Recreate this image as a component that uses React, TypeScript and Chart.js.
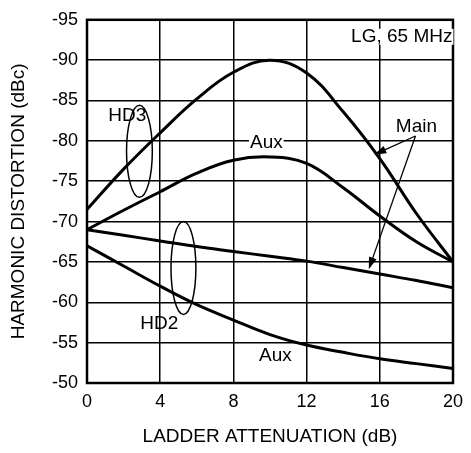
import React, { useEffect, useRef } from "react";
import { Chart, registerables } from "chart.js";

Chart.register(...registerables);

const attenuation = [0, 2, 4, 6, 8, 10, 12, 14, 16, 18, 20];
const hd3Main = [-71.5, -76.5, -81, -85.2, -88.5, -90, -88.4, -83.6, -77.8, -71, -65];
const hd3Aux = [-69, -71.4, -73.7, -76, -77.6, -78, -77.2, -74.2, -70.7, -67.5, -65];
const hd2Main = [-69, -68.3, -67.6, -66.9, -66.3, -65.7, -65.1, -64.3, -63.5, -62.7, -61.8];
const hd2Aux = [-67, -64.5, -62, -59.7, -57.8, -56, -54.7, -53.8, -53, -52.4, -51.8];
const xTicks = [0, 4, 8, 12, 16, 20];
const yTicks = [-95, -90, -85, -80, -75, -70, -65, -60, -55, -50];

const FONT = "'Liberation Sans', Arial, sans-serif";

const annotationPlugin = {
  id: "annotations",
  afterDraw(chart: any) {
    const { ctx, chartArea, scales } = chart;
    const xs = scales.x;
    const ys = scales.y;
    const px = (v: number) => xs.getPixelForValue(v);
    const py = (v: number) => ys.getPixelForValue(v);
    ctx.save();

    // frame
    ctx.strokeStyle = "#000";
    ctx.lineWidth = 2.5;
    ctx.strokeRect(chartArea.left, chartArea.top, chartArea.right - chartArea.left, chartArea.bottom - chartArea.top);

    const text = (s: string, x: number, y: number, bg: boolean) => {
      ctx.font = `19px ${FONT}`;
      ctx.textAlign = "center";
      ctx.textBaseline = "middle";
      const w = ctx.measureText(s).width;
      const X = px(x);
      const Y = py(y);
      if (bg) {
        ctx.fillStyle = "#fff";
        ctx.fillRect(X - w / 2 - 1, Y - 8, w + 2, 16);
      }
      ctx.fillStyle = "#000";
      ctx.fillText(s, X, Y);
    };

    text("LG, 65 MHz", 17.2, -92.9, true);
    text("HD3", 2.2, -83.1, false);
    text("Aux", 9.8, -79.8, true);
    text("Main", 18, -81.7, false);
    text("HD2", 3.95, -57.3, false);
    text("Aux", 10.3, -53.4, false);

    // ellipses
    const ellipse = (x0: number, x1: number, y0: number, y1: number) => {
      const a = px(x0), b = px(x1), c = py(y0), d = py(y1);
      ctx.beginPath();
      ctx.ellipse((a + b) / 2, (c + d) / 2, Math.abs(b - a) / 2, Math.abs(d - c) / 2, 0, 0, Math.PI * 2);
      ctx.lineWidth = 1.5;
      ctx.strokeStyle = "#000";
      ctx.stroke();
    };
    ellipse(2.16, 3.57, -84.4, -73.0);
    ellipse(4.59, 5.95, -70.0, -58.5);

    // arrows
    const arrow = (x0: number, y0: number, x1: number, y1: number) => {
      const X0 = px(x0), Y0 = py(y0), X1 = px(x1), Y1 = py(y1);
      const ang = Math.atan2(Y1 - Y0, X1 - X0);
      const len = 12;
      const hw = 4;
      ctx.strokeStyle = "#000";
      ctx.lineWidth = 1.3;
      ctx.beginPath();
      ctx.moveTo(X0, Y0);
      ctx.lineTo(X1 - Math.cos(ang) * len * 0.8, Y1 - Math.sin(ang) * len * 0.8);
      ctx.stroke();
      ctx.fillStyle = "#000";
      ctx.beginPath();
      ctx.moveTo(X1, Y1);
      ctx.lineTo(X1 - Math.cos(ang) * len + Math.sin(ang) * hw, Y1 - Math.sin(ang) * len - Math.cos(ang) * hw);
      ctx.lineTo(X1 - Math.cos(ang) * len - Math.sin(ang) * hw, Y1 - Math.sin(ang) * len + Math.cos(ang) * hw);
      ctx.closePath();
      ctx.fill();
    };
    arrow(17.95, -80.6, 15.7, -78.3);
    arrow(17.95, -80.6, 15.4, -64.1);

    ctx.restore();
  },
};

export default function App() {
  const ref = useRef<HTMLCanvasElement>(null);
  useEffect(() => {
    document.body.style.margin = "0";
    const mk = (d: number[]) => ({
      data: attenuation.map((x, i) => ({ x, y: d[i] })),
      borderColor: "#000",
      borderWidth: 3,
      pointRadius: 0,
      fill: false,
      tension: 0.4,
    });
    const chart = new Chart(ref.current!, {
      type: "line",
      data: {
        datasets: [
          { label: "HD3 Main", ...mk(hd3Main) },
          { label: "HD3 Aux", ...mk(hd3Aux) },
          { label: "HD2 Main", ...mk(hd2Main) },
          { label: "HD2 Aux", ...mk(hd2Aux) },
        ],
      },
      options: {
        responsive: false,
        animation: false,
        layout: { padding: { top: 13, right: 14, left: 0, bottom: 0 } },
        plugins: { legend: { display: false }, tooltip: { enabled: false } },
        scales: {
          x: {
            type: "linear",
            min: 0,
            max: 20,
            afterBuildTicks: (s: any) => {
              s.ticks = xTicks.map((v) => ({ value: v }));
            },
            afterFit: (s: any) => {
              s.height = 70;
            },
            ticks: { color: "#000", font: { family: FONT, size: 18 }, padding: 8, maxRotation: 0 },
            grid: { color: "#000", lineWidth: 1.5, drawTicks: false },
            border: { display: false },
            title: {
              display: true,
              text: "LADDER ATTENUATION (dB)",
              color: "#000",
              font: { family: FONT, size: 19 },
              padding: { top: 0, bottom: 4.5 },
            },
          },
          y: {
            type: "linear",
            min: -95,
            max: -50,
            reverse: true,
            afterBuildTicks: (s: any) => {
              s.ticks = yTicks.map((v) => ({ value: v }));
            },
            afterFit: (s: any) => {
              s.width = 87;
            },
            ticks: { color: "#000", font: { family: FONT, size: 18 }, padding: 9 },
            grid: { color: "#000", lineWidth: 1.5, drawTicks: false },
            border: { display: false },
            title: {
              display: true,
              text: "HARMONIC DISTORTION (dBc)",
              color: "#000",
              font: { family: FONT, size: 19 },
              padding: { top: 7.5, bottom: 0 },
            },
          },
        },
      },
      plugins: [annotationPlugin],
    });
    return () => chart.destroy();
  }, []);
  return <canvas ref={ref} width={471} height={453} style={{ display: "block" }} />;
}
